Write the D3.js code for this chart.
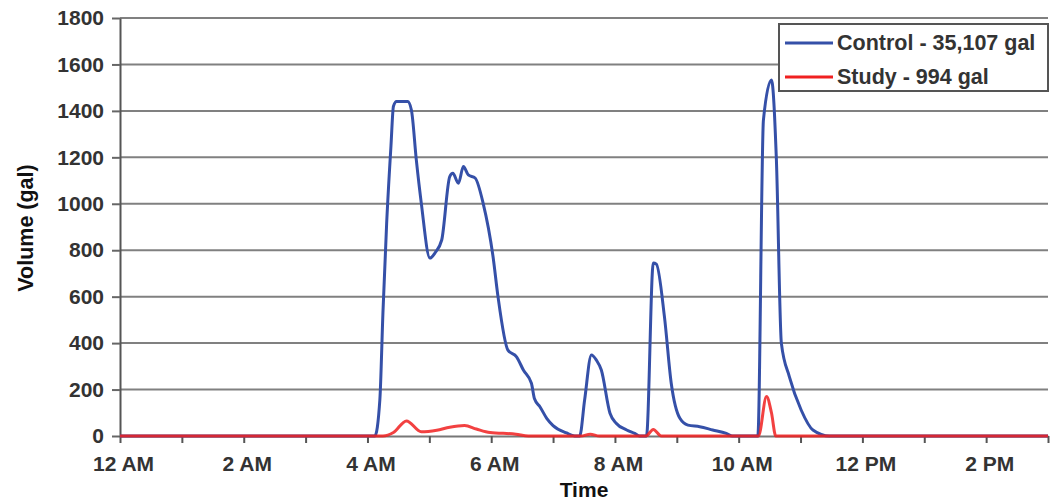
<!DOCTYPE html>
<html>
<head>
<meta charset="utf-8">
<script src="https://cdn.jsdelivr.net/npm/d3@7"></script>
<style>
    body { margin: 0; background: #fff; }
    text { font-family: "Liberation Sans", Arial, sans-serif; }
</style>
</head>
<body>
<div id="container"><svg></svg></div>
<script>
let width = 1051
let height = 503

// hours after midnight, gallons
let controlHour = [0, 4.12, 4.20, 4.25, 4.31, 4.38, 4.42, 4.47, 4.65, 4.71, 4.79, 4.87, 5.01, 5.09, 5.20, 5.33, 5.38, 5.47, 5.55, 5.63, 5.74, 5.87, 6.03, 6.11, 6.27, 6.41, 6.52, 6.65, 6.70, 6.79, 6.90, 7.00, 7.22, 7.35,
    7.43, 7.51, 7.62, 7.70, 7.78, 7.92, 8.02, 8.19, 8.32, 8.40,
    8.51, 8.62, 8.67, 8.80, 8.91, 9.05, 9.18, 9.37, 9.58, 9.80, 9.90,
    10.31, 10.40, 10.53, 10.61, 10.69, 10.82, 11.01, 11.20, 11.47, 15]
let controlVol = [0, 0, 155, 530, 915, 1250, 1420, 1440, 1440, 1404, 1188, 1003, 766, 788, 844, 1117, 1131, 1088, 1160, 1124, 1111, 1002, 772, 600, 370, 341, 284, 227, 160, 125, 75, 45, 13, 0,
    0, 155, 349, 327, 284, 98, 55, 26, 11, 0,
    0, 745, 740, 514, 227, 76, 47, 40, 26, 11, 0,
    0, 1360, 1533, 1188, 400, 255, 112, 26, 0, 0]

let studyHour = [0, 4.25, 4.42, 4.63, 4.87, 5.12, 5.33, 5.57, 5.76, 5.98, 6.40, 6.60, 7.45, 7.60, 7.75, 8.50, 8.62, 8.75, 10.32, 10.45, 10.53, 10.60, 15]
let studyVol = [0, 0, 15, 65, 18, 25, 38, 45, 30, 15, 8, 0, 0, 8, 0, 0, 28, 0, 0, 170, 100, 0, 0]

let tickHours = [0, 2, 4, 6, 8, 10, 12, 14]
let tickLabels = ['12 AM', '2 AM', '4 AM', '6 AM', '8 AM', '10 AM', '12 PM', '2 PM']
let yTicks = [0, 200, 400, 600, 800, 1000, 1200, 1400, 1600, 1800]

let seriesNames = ['Control - 35,107 gal', 'Study - 994 gal']
let seriesColors = ['#3550a8', '#f02020']

function draw_main() {
    let padding = { left: 120, right: 3, top: 18, bottom: 67 }
    let svg = d3.select('#container').select('svg')
        .attr('width', width)
        .attr('height', height)

    let x = d3.scaleLinear()
        .domain([0, 15])
        .range([padding.left, width - padding.right])
    let y = d3.scaleLinear()
        .domain([0, 1800])
        .range([height - padding.bottom, padding.top])

    // grid
    svg.append('g')
        .selectAll('line')
        .data(yTicks.slice(1))
        .enter().append('line')
        .attr('x1', x(0))
        .attr('x2', x(15))
        .attr('y1', d => y(d))
        .attr('y2', d => y(d))
        .attr('stroke', '#808080')
        .attr('stroke-width', 2)

    // y axis
    let gy = svg.append('g')
        .attr('transform', `translate(${x(0)}, 0)`)
        .call(d3.axisLeft(y).tickValues(yTicks).tickSize(8).tickSizeOuter(0).tickPadding(8)
            .tickFormat(d3.format('d')))
    gy.select('.domain').attr('stroke', '#555').attr('stroke-width', 2)
    gy.selectAll('.tick line').attr('stroke', '#666').attr('stroke-width', 2)
    gy.selectAll('.tick text')
        .attr('font-size', 21)
        .attr('font-weight', 'bold')
        .attr('fill', '#333')
        .style('font-family', '"Liberation Sans", Arial, sans-serif')

    // x axis
    let gx = svg.append('g')
        .attr('transform', `translate(0, ${y(0)})`)
        .call(d3.axisBottom(x).tickValues(d3.range(0, 16)).tickSize(7).tickSizeOuter(0).tickPadding(13)
            .tickFormat(h => {
                let i = tickHours.indexOf(h)
                return i < 0 ? '' : tickLabels[i]
            }))
    gx.select('.domain').attr('stroke', '#777').attr('stroke-width', 2)
    gx.selectAll('.tick line').attr('stroke', '#555').attr('stroke-width', 2)
    gx.selectAll('.tick text')
        .attr('font-size', 21)
        .attr('font-weight', 'bold')
        .attr('fill', '#333')
        .attr('dx', 3)
        .style('font-family', '"Liberation Sans", Arial, sans-serif')

    // axis titles
    svg.append('text')
        .attr('x', (x(0) + x(15)) / 2)
        .attr('y', 497)
        .attr('text-anchor', 'middle')
        .attr('font-size', 21)
        .attr('font-weight', 'bold')
        .attr('fill', '#111')
        .text('Time')

    svg.append('text')
        .attr('transform', `translate(33, ${228}) rotate(-90)`)
        .attr('text-anchor', 'middle')
        .attr('font-size', 21.5)
        .attr('font-weight', 'bold')
        .attr('fill', '#111')
        .text('Volume (gal)')

    // lines
    let line = d3.line()
        .x(d => x(d[0]))
        .y(d => y(d[1]))
        .curve(d3.curveMonotoneX)

    let control = controlHour.map((h, i) => [h, controlVol[i]])
    let study = studyHour.map((h, i) => [h, studyVol[i]])

    svg.append('path')
        .datum(control)
        .attr('d', line)
        .attr('fill', 'none')
        .attr('stroke', seriesColors[0])
        .attr('stroke-width', 3)
        .attr('stroke-linejoin', 'round')

    svg.append('path')
        .datum(study)
        .attr('d', line)
        .attr('fill', 'none')
        .attr('stroke', seriesColors[1])
        .attr('stroke-width', 3)
        .attr('stroke-linejoin', 'round')
        .attr('opacity', 0.85)

    // legend
    let lg = svg.append('g').attr('transform', 'translate(779, 24)')
    lg.append('rect')
        .attr('width', 269)
        .attr('height', 67)
        .attr('fill', '#fff')
        .attr('stroke', '#555')
        .attr('stroke-width', 2)
    seriesNames.forEach((name, i) => {
        lg.append('line')
            .attr('x1', 6).attr('x2', 54)
            .attr('y1', 19 + i * 34).attr('y2', 19 + i * 34)
            .attr('stroke', seriesColors[i])
            .attr('stroke-width', 3)
        lg.append('text')
            .attr('x', 58)
            .attr('y', 26 + i * 34)
            .attr('font-size', 21.5)
            .attr('font-weight', 'bold')
            .attr('fill', '#333')
            .text(name)
    })
}

draw_main()
</script>
</body>
</html>
